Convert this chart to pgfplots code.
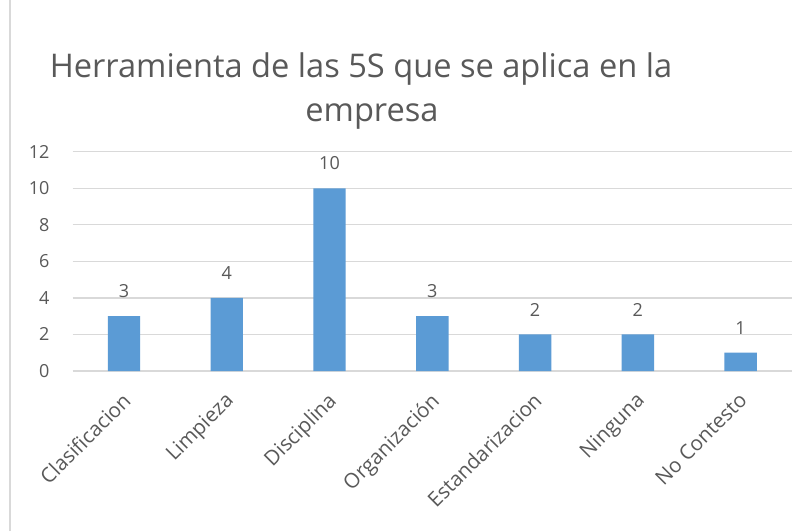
\documentclass[border=0pt]{standalone}
\usepackage{pgfplots}
\pgfplotsset{compat=1.18}
\usepackage{fontspec}
\setmainfont{Open Sans}
\definecolor{barblue}{HTML}{5B9BD5}
\definecolor{gridgray}{HTML}{D9D9D9}
\definecolor{txt}{HTML}{595959}
\begin{document}
\begin{tikzpicture}[x=1pt,y=1pt]
\useasboundingbox (0,0) rectangle (809,531);
\fill[white] (0,0) rectangle (809,531);
\draw[gridgray, line width=1.5pt] (10,0) -- (10,531);
\node[anchor=base, text=txt, font=\fontsize{32.6}{38}\selectfont, inner sep=0pt] at (361,453) {Herramienta de las 5S que se aplica en la};
\node[anchor=base, text=txt, font=\fontsize{32.6}{38}\selectfont, inner sep=0pt] at (372,409) {empresa};
\begin{axis}[
  at={(72.6pt,160pt)}, anchor=south west,
  scale only axis, width=719.4pt, height=219.3pt,
  xmin=-0.5, xmax=6.5, ymin=0, ymax=12,
  ytick={0,2,4,6,8,10,12},
  xtick={0,1,2,3,4,5,6},
  xticklabels={Clasificacion,Limpieza,Disciplina,Organización,Estandarizacion,Ninguna,No Contesto},
  axis line style={draw=none},
  ymajorgrids, grid style={gridgray, line width=1.2pt},
  major tick length=0pt,
  tick style={draw=none},
  /pgf/number format/assume math mode=true,
  ticklabel style={text=txt, font=\fontsize{18}{22}\selectfont},
  yticklabel style={anchor=east, inner sep=0pt, xshift=-23pt},
  xticklabel style={font=\fontsize{20.5}{24}\selectfont, xshift=-3pt, yshift=-20pt, rotate=45, anchor=north east, inner sep=0pt},
  ybar, bar width=32.4pt,
  nodes near coords,
  every node near coord/.append style={text=txt, font=\fontsize{18}{22}\selectfont, inner sep=0pt, anchor=south, yshift=18pt},
  clip=false,
]
\addplot[fill=barblue, draw=none] coordinates {(0,3) (1,4) (2,10) (3,3) (4,2) (5,2) (6,1)};
\end{axis}
\end{tikzpicture}
\end{document}
